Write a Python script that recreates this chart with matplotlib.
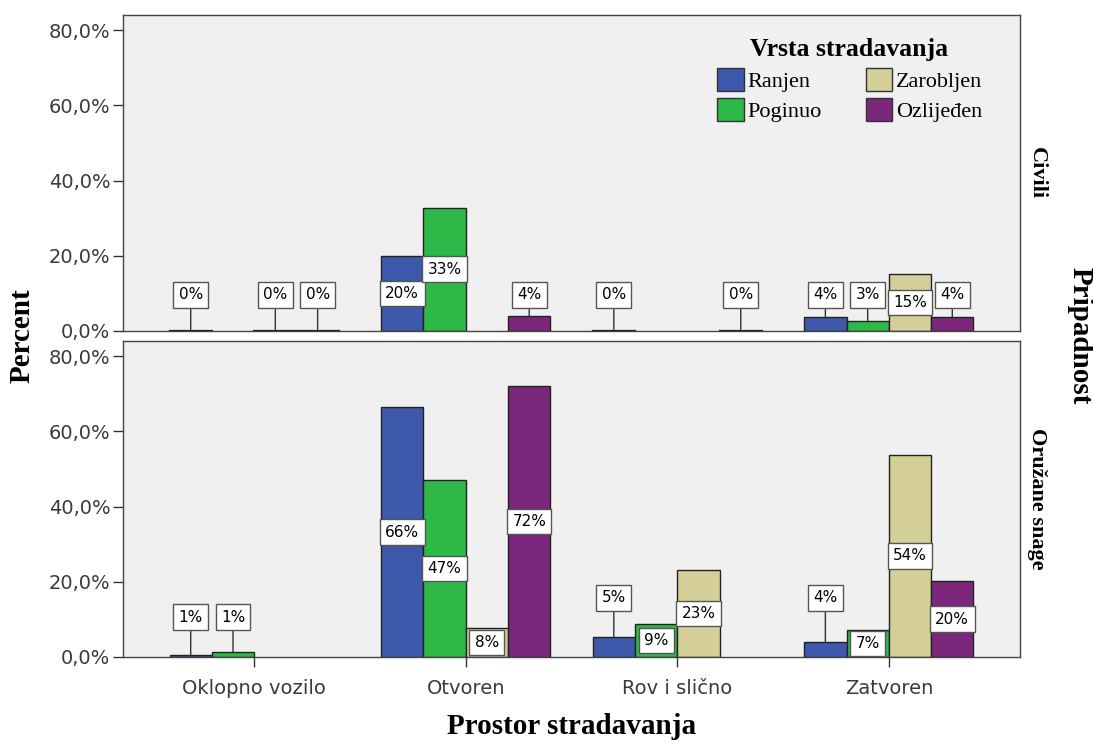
import numpy as np
import matplotlib.pyplot as plt
from matplotlib.patches import Patch

categories = ['Oklopno vozilo', 'Otvoren', 'Rov i slično', 'Zatvoren']
series = ['Ranjen', 'Poginuo', 'Zarobljen', 'Ozlijeđen']
colors = ['#3E58AC', '#2EB848', '#D4CF98', '#7B287C']

# percent per category, nan = no bar
civili_ranjen = [0.0, 19.9, 0.0, 3.6]
civili_poginuo = [np.nan, 32.8, np.nan, 2.7]
civili_zarobljen = [0.0, np.nan, np.nan, 15.2]
civili_ozlijeden = [0.0, 4.0, 0.0, 3.8]

vojska_ranjen = [0.6, 66.4, 5.2, 3.9]
vojska_poginuo = [1.4, 47.0, 8.8, 7.1]
vojska_zarobljen = [np.nan, 7.7, 23.1, 53.7]
vojska_ozlijeden = [np.nan, 72.0, np.nan, 20.1]

panels = [
    ('Civili', [civili_ranjen, civili_poginuo, civili_zarobljen, civili_ozlijeden], [9.6, 9.6, 9.6, 9.6]),
    ('Oružane snage', [vojska_ranjen, vojska_poginuo, vojska_zarobljen, vojska_ozlijeden], [10.6, 10.6, 15.7, 15.7]),
]

serif = 'Liberation Serif'
bg = '#F0F0F0'

fig = plt.figure(figsize=(10.93, 7.42), dpi=100)
left, width, height = 123 / 1093, 897 / 1093, 316 / 742
ax_top = fig.add_axes([left, (742 - 331) / 742, width, height])
ax_bot = fig.add_axes([left, (742 - 657) / 742, width, height])

x = np.arange(len(categories))
bw = 0.2

for ax, (name, data, callout_y) in zip([ax_top, ax_bot], panels):
    ax.set_facecolor(bg)
    for i, (vals, col) in enumerate(zip(data, colors)):
        xs = x + (i - 1.5) * bw
        for xi, v, cy in zip(xs, vals, callout_y):
            if np.isnan(v):
                continue
            ax.bar(xi, v, width=bw, color=col, edgecolor='#222222', linewidth=1, zorder=2)
            if v == 0:
                ax.plot([xi - bw / 2, xi + bw / 2], [0.1, 0.1], color='#222222', lw=1.6, zorder=3)
            txt = f'{round(v):.0f}%'
            box = dict(boxstyle='square,pad=0.35', fc='white', ec='#555555', lw=1)
            if v < 6:
                ax.annotate(txt, xy=(xi, v), xytext=(xi, cy), ha='center', va='center',
                            fontsize=11, bbox=box, zorder=4,
                            arrowprops=dict(arrowstyle='-', color='#333333', lw=1, shrinkA=0, shrinkB=0))
            else:
                ax.text(xi, v / 2, txt, ha='center', va='center', fontsize=11, bbox=box, zorder=4)
    ax.set_xlim(-0.62, 3.62)
    ax.set_ylim(0, 84)
    ax.set_yticks([0, 20, 40, 60, 80])
    ax.set_yticklabels([f'{t},0%' for t in [0, 20, 40, 60, 80]], fontsize=14, color='#3a3a3a')
    ax.tick_params(axis='y', length=7, width=1, color='#333333', pad=2)
    for s in ax.spines.values():
        s.set_color('#444444')
        s.set_linewidth(1)
    ax.text(1.019, 0.5, name, transform=ax.transAxes, rotation=-90, ha='center', va='center',
            fontsize=16, fontweight='bold', family=serif)

ax_top.set_xticks(x)
ax_top.tick_params(axis='x', length=0, labelbottom=False)
ax_bot.set_xticks(x)
ax_bot.set_xticklabels(categories, fontsize=14, color='#3a3a3a')
ax_bot.tick_params(axis='x', length=7, width=1, color='#333333', pad=9)

handles = [Patch(facecolor=c, edgecolor='#333333', label=s) for c, s in zip(colors, series)]
leg = ax_top.legend(handles=handles, ncol=2, loc='upper left', bbox_to_anchor=(0.64, 0.99),
                    title='Vrsta stradavanja', frameon=False, prop={'family': serif, 'size': 16},
                    handlelength=1.2, handleheight=1.2, handletextpad=0.15, columnspacing=2.0,
                    labelspacing=0.3)
leg.get_title().set_fontfamily(serif)
leg.get_title().set_fontweight('bold')
leg.get_title().set_fontsize(18.5)

fig.text(22 / 1093, 1 - 336 / 742, 'Percent', rotation=90, ha='center', va='center',
         fontsize=21, fontweight='bold', family=serif)
fig.text(1080 / 1093, 1 - 336 / 742, 'Pripadnost', rotation=-90, ha='center', va='center',
         fontsize=21, fontweight='bold', family=serif)
fig.text(572 / 1093, 1 - 727 / 742, 'Prostor stradavanja', ha='center', va='center',
         fontsize=21, fontweight='bold', family=serif)

fig.savefig('out.png', dpi=100)
